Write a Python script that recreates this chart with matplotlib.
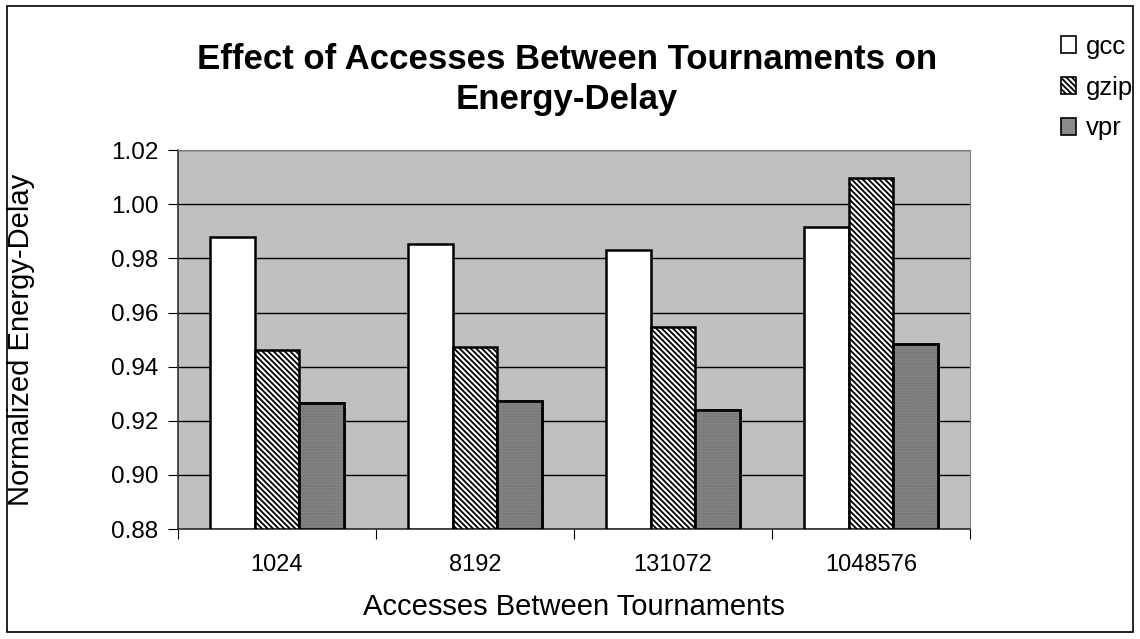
import numpy as np
import matplotlib
matplotlib.use("Agg")
import matplotlib.pyplot as plt
from matplotlib.patches import Rectangle

plt.rcParams['font.family'] = ['Liberation Sans', 'DejaVu Sans']
plt.rcParams['hatch.linewidth'] = 1.3

# accesses between tournaments
categories = ['1024', '8192', '131072', '1048576']
gcc = [0.9881, 0.9855, 0.9832, 0.9915]
gzip = [0.9463, 0.9474, 0.9548, 1.0096]
vpr = [0.9266, 0.9274, 0.9241, 0.9485]
series = ['gcc', 'gzip', 'vpr']

fig = plt.figure(figsize=(11.4, 6.39), dpi=100)
ax = fig.add_axes([0.156, 0.172, 0.695, 0.593])
ax.set_facecolor('#c0c0c0')

x = np.arange(len(categories))
w = 0.225
base = 0.88
styles = [dict(facecolor='white', hatch=None),
          dict(facecolor='white', hatch='\\' * 6),
          dict(facecolor='#8a8a8a', hatch=None)]
for i, (vals, st) in enumerate(zip([gcc, gzip, vpr], styles)):
    ax.bar(x + (i - 1) * w, np.array(vals) - base, w, bottom=base,
           edgecolor='black', linewidth=1.8, label=series[i], zorder=3, **st)

# fine dot texture on the vpr bars
ax.bar(x + w, np.array(vpr) - base, w, bottom=base, facecolor='none',
       edgecolor='#707070', hatch='......', linewidth=0, zorder=3.5)
ax.bar(x + w, np.array(vpr) - base, w, bottom=base, facecolor='none',
       edgecolor='black', linewidth=1.8, zorder=4)

ax.set_ylim(0.88, 1.02)
ax.set_xlim(-0.5, 3.5)
yt = np.arange(0.88, 1.0201, 0.02)
ax.set_yticks(yt)
ax.set_yticklabels(['%.2f' % v for v in yt], fontsize=17.5)
ax.yaxis.grid(True, color='black', linewidth=1.0, zorder=1)
ax.set_axisbelow(True)

# category labels centred, ticks on group boundaries
ax.set_xticks(np.arange(-0.5, 4.0, 1.0))
ax.set_xticklabels([])
ax.set_xticks(x, minor=True)
ax.set_xticklabels(categories, minor=True, fontsize=17)
ax.tick_params(axis='x', which='minor', length=0, pad=18)
ax.tick_params(axis='x', which='major', length=7, direction='out', color='black')
ax.tick_params(axis='y', length=7, direction='out', color='black', pad=7)

for s in ['top', 'right']:
    ax.spines[s].set_color('#808080')
for s in ['left', 'bottom']:
    ax.spines[s].set_color('#303030')
    ax.spines[s].set_linewidth(1.2)

ax.set_xlabel('Accesses Between Tournaments', fontsize=21, labelpad=12)
ax.set_ylabel('Normalized Energy-Delay', fontsize=21)
ax.yaxis.set_label_coords(-0.18, 0.5)

fig.text(0.497, 0.83, 'Effect of Accesses Between Tournaments on\nEnergy-Delay',
         ha='center', va='baseline', fontsize=25, fontweight='bold', linespacing=1.25)

leg = fig.legend(loc='upper left', bbox_to_anchor=(0.919, 0.966), frameon=False,
                 borderpad=0, fontsize=18.5, handlelength=0.6, handleheight=0.6,
                 handletextpad=0.4, labelspacing=0.66)
for h in leg.legend_handles:
    h.set_linewidth(1.2)

# outer chart border
fig.patches.append(Rectangle((0.006, 0.011), 0.988, 0.979, transform=fig.transFigure,
                             fill=False, edgecolor='black', linewidth=1.2))

fig.savefig('out.png', dpi=100)
